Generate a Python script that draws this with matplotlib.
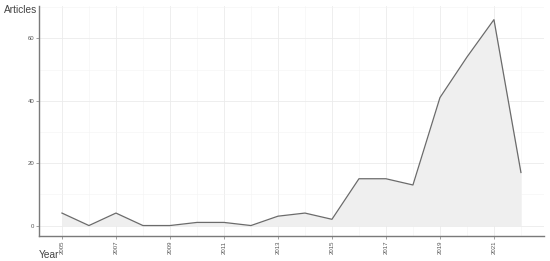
import matplotlib.pyplot as plt
from matplotlib.ticker import MultipleLocator

plt.rcParams["font.family"] = ["Liberation Sans", "DejaVu Sans"]

years = list(range(2005, 2023))
articles = [4, 0, 4, 0, 0, 1, 1, 0, 3, 4, 2, 15, 15, 13, 41, 54, 66, 17]

fig = plt.figure(figsize=(5.5, 2.61), dpi=100)
ax = fig.add_axes([0.0709, 0.0958, 0.918, 0.881])

ax.fill_between(years, articles, 0, color="#efefef", linewidth=0, zorder=2)
ax.plot(years, articles, color="#6b6b6b", linewidth=0.9, zorder=3)

ax.set_xlim(2004.15, 2022.85)
ax.set_ylim(-3.35, 70.35)
ax.set_xticks(range(2005, 2022, 2))
ax.set_xticks(range(2006, 2023, 2), minor=True)
ax.yaxis.set_major_locator(MultipleLocator(20))
ax.yaxis.set_minor_locator(MultipleLocator(10))

ax.grid(which="major", color="#ebebeb", linewidth=0.6, zorder=0)
ax.grid(which="minor", color="#f4f4f4", linewidth=0.4, zorder=0)

for s in ["top", "right"]:
    ax.spines[s].set_visible(False)
for s in ["left", "bottom"]:
    ax.spines[s].set_color("#7a7a7a")
    ax.spines[s].set_linewidth(1.0)

ax.tick_params(which="major", length=2, width=0.5, color="#7a7a7a",
               labelsize=4.3, labelcolor="#555555", pad=1.5)
ax.tick_params(which="minor", length=0)
ax.tick_params(axis="x", labelrotation=90)

fig.text(0.007, 0.962, "Articles", fontsize=7.3, color="#444444", ha="left", va="center")
fig.text(0.071, 0.022, "Year", fontsize=7.3, color="#444444", ha="left", va="center")

fig.savefig("out.png", dpi=100, facecolor="white")
